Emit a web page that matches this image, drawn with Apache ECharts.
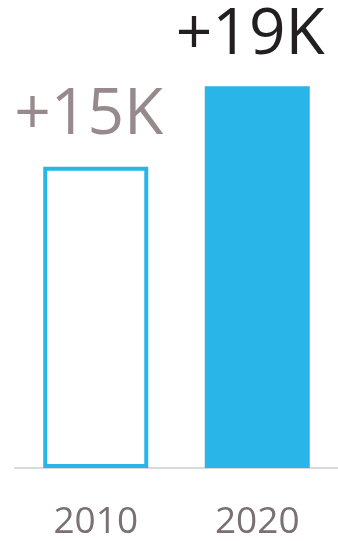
<!DOCTYPE html>
<html><head><meta charset="utf-8">
<script src="https://cdn.jsdelivr.net/npm/echarts@6/dist/echarts.min.js"></script>
<style>html,body{margin:0;padding:0;background:#fff}#c{width:338px;height:541px}</style>
</head><body><div id="c"></div>
<script>
const categories = ['2010', '2020'];
const values = [15, 19];
const valueLabels = ['+15K', '+19K'];

const chart = echarts.init(document.getElementById('c'), null, {renderer: 'canvas'});
chart.setOption({
  animation: false,
  grid: {left: 15, right: -6, top: 6, bottom: 73},
  xAxis: {
    type: 'category', data: categories,
    axisLine: {lineStyle: {color: '#d9d9d9', width: 2}},
    axisTick: {show: false},
    axisLabel: {color: '#7a6f72', fontSize: 37, fontFamily: 'Open Sans', margin: 36}
  },
  yAxis: {type: 'value', min: 0, max: 23, show: false, splitLine: {show: false}},
  series: [{
    type: 'bar', barWidth: 105,
    data: [
      {value: values[0], itemStyle: {color: '#ffffff', borderColor: '#2ab5e8', borderWidth: 4},
       label: {color: '#968a8d'}},
      {value: values[1], itemStyle: {color: '#2ab5e8'}, label: {color: '#231f20'}}
    ],
    label: {
      show: true, position: 'top', distance: 19, offset: [-7, 0],
      fontSize: 64, fontFamily: 'Open Sans',
      formatter: p => valueLabels[p.dataIndex]
    }
  }]
});
</script></body></html>
